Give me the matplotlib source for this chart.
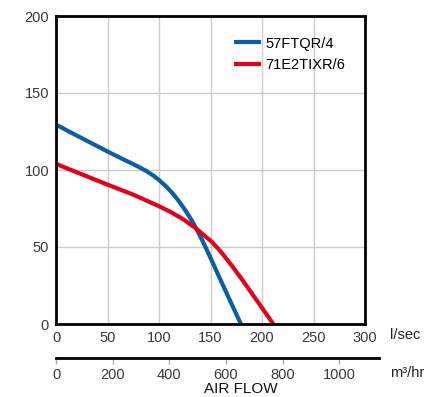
import numpy as np
import matplotlib.pyplot as plt

plt.rcParams['font.family'] = ['Liberation Sans', 'DejaVu Sans']

# curves (l/sec, pressure)
blue_x = [0, 14, 27, 40, 50, 62, 75, 82, 88, 94, 100, 107, 113, 119, 124, 128, 132, 136,
          143, 151, 158, 164, 172, 179.5]
blue_y = [129.5, 124.5, 120, 115.5, 112, 108, 103.8, 101.4, 99.2, 96.6, 93.5, 89.3, 85, 80,
          75.3, 71.3, 67, 62.2, 53, 41.5, 31.2, 22.4, 10.8, 0]
red_x = [0, 25, 50, 75, 90, 100, 112, 124, 136, 151, 160, 170, 180, 190, 200, 211]
red_y = [104, 97.2, 90.5, 84, 79.5, 76.5, 72.5, 67.8, 62, 53.5, 47, 38.5, 29.5, 20, 10.5, 0]
labels = ['57FTQR/4', '71E2TIXR/6']

lps_ticks = [0, 50, 100, 150, 200, 250, 300]
m3h_ticks = [0, 200, 400, 600, 800, 1000]
y_ticks = [0, 50, 100, 150, 200]

FS = 10.5
W, H = 436, 397
fig = plt.figure(figsize=(W / 100, H / 100), dpi=100)

ax = fig.add_axes([56 / W, 1 - 324 / H, 309 / W, 308 / H])
ax.plot(blue_x, blue_y, color='#0a5ea8', lw=3, label=labels[0],
        solid_capstyle='butt', solid_joinstyle='round')
ax.plot(red_x, red_y, color='#e2001a', lw=3, label=labels[1],
        solid_capstyle='butt', solid_joinstyle='round')
ax.set_xlim(0, 300)
ax.set_ylim(0, 200)
ax.set_xticks(lps_ticks)
ax.set_yticks(y_ticks)
ax.grid(True, color='#cccccc', lw=1)
ax.set_axisbelow(True)
for s in ax.spines.values():
    s.set_linewidth(2)
    s.set_color('black')
ax.tick_params(length=0, labelsize=FS, colors='#3a3a3a', pad=5)
ax.legend(loc='upper left', bbox_to_anchor=(0.535, 0.976), frameon=False,
          fontsize=FS, handlelength=1.8, handletextpad=0.3, labelspacing=0.5)
fig.text(390 / W, 1 - 335 / H, 'l/sec', fontsize=FS, color='#222222',
         ha='left', va='center')

# second scale in m3/hr
ax2 = fig.add_axes([56 / W, 1 - 358 / H, 323 / W, 0.001])
ax2.set_xlim(0, 1140)
ax2.set_xticks(m3h_ticks)
ax2.set_yticks([])
for k in ['top', 'left', 'right']:
    ax2.spines[k].set_visible(False)
ax2.spines['bottom'].set_linewidth(2)
ax2.patch.set_visible(False)
ax2.tick_params(axis='x', length=4, width=1, color='#aaaaaa', labelsize=FS,
                labelcolor='#3a3a3a', pad=3)
fig.text(390 / W, 1 - 373 / H, 'm³/hr', fontsize=FS, color='#222222',
         ha='left', va='center')
fig.text(241 / W, 1 - 389 / H, 'AIR FLOW', fontsize=11, color='#111111',
         ha='center', va='center')

fig.savefig('out.png', dpi=100)
